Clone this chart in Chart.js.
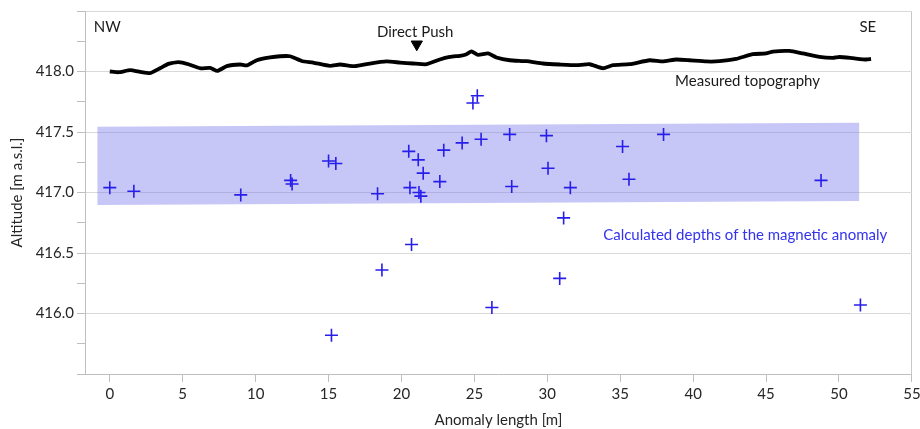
<!DOCTYPE html>
<html lang="en">
<head>
  <meta charset="UTF-8">
  <title>Anomaly depths</title>
  <script src="https://cdn.jsdelivr.net/npm/chart.js"></script>
  <style>
    body { margin: 0; background: #fff; }
    #wrap { width: 920px; height: 429px; }
  </style>
</head>
<body>
  <div id="wrap"><canvas id="chart" width="920" height="429"></canvas></div>

  <script>
    // axis ticks
    const xTicks = [0, 5, 10, 15, 20, 25, 30, 35, 40, 45, 50, 55];
    const yTicks = [415.5, 415.75, 416.0, 416.25, 416.5, 416.75, 417.0, 417.25, 417.5, 417.75, 418.0, 418.25, 418.5];
    const yLabelled = [416.0, 416.5, 417.0, 417.5, 418.0];

    // measured topography
    const topoX = [0.0, 0.60, 1.40, 2.08, 2.77, 3.45, 4.02, 4.71, 5.39, 6.19, 6.88, 7.38, 8.02, 8.93, 9.39,
      10.08, 10.99, 11.67, 12.36, 13.16, 13.95, 15.10, 15.78, 16.81, 17.83, 18.98, 19.89, 20.80, 21.72,
      22.63, 23.32, 24.12, 24.46, 24.80, 25.25, 25.94, 26.51, 27.42, 28.57, 29.71, 30.85, 31.99, 32.90,
      33.82, 34.50, 35.64, 37.01, 37.92, 38.84, 39.75, 40.90, 41.81, 42.95, 44.09, 45.01, 45.46, 46.60,
      47.51, 48.66, 49.57, 50.03, 50.94, 51.86, 52.20];
    const topoY = [418.000, 417.994, 418.011, 417.997, 417.986, 418.027, 418.063, 418.077, 418.060, 418.027,
      418.030, 418.005, 418.044, 418.058, 418.050, 418.093, 418.116, 418.126, 418.126, 418.087, 418.074,
      418.046, 418.058, 418.044, 418.066, 418.083, 418.074, 418.066, 418.060, 418.099, 418.120, 418.132,
      418.143, 418.167, 418.137, 418.149, 418.116, 418.093, 418.085, 418.066, 418.058, 418.052, 418.060,
      418.027, 418.052, 418.060, 418.093, 418.083, 418.099, 418.093, 418.083, 418.085, 418.104, 418.143,
      418.149, 418.165, 418.170, 418.149, 418.120, 418.112, 418.120, 418.110, 418.099, 418.104];

    // calculated depths of the magnetic anomaly
    const depthX = [0.0, 1.65, 8.98, 12.4, 12.5, 15.0, 15.5, 15.2, 18.36, 20.5, 21.15, 21.49, 22.63, 20.58,
      21.2, 21.33, 22.9, 24.16, 25.46, 24.9, 25.2, 27.42, 29.94, 30.05, 27.56, 20.69, 18.66, 26.2, 30.85,
      31.12, 31.58, 35.16, 35.6, 37.97, 48.77, 51.47];
    const depthY = [417.04, 417.01, 416.98, 417.10, 417.07, 417.26, 417.24, 415.82, 416.99, 417.34, 417.27,
      417.16, 417.09, 417.04, 417.00, 416.97, 417.35, 417.41, 417.44, 417.74, 417.80, 417.48, 417.47,
      417.20, 417.05, 416.57, 416.36, 416.05, 416.29, 416.79, 417.04, 417.38, 417.11, 417.48, 417.10, 416.07];

    // shaded depth band
    const bandX = [-0.86, 51.4];
    const bandTop = [417.543, 417.576];
    const bandBottom = [416.897, 416.93];

    // direct push location
    const pushX = [21.05];
    const pushY = [418.225];

    const notes = [
      { text: 'NW', x: -0.18, y: 418.366, color: '#1a1a1a' },
      { text: 'SE', x: 51.98, y: 418.363, color: '#1a1a1a' },
      { text: 'Direct Push', x: 20.94, y: 418.324, color: '#1a1a1a' },
      { text: 'Measured topography', x: 43.73, y: 417.92, color: '#1a1a1a' },
      { text: 'Calculated depths of the magnetic anomaly', x: 43.57, y: 416.649, color: '#3333f0' }
    ];

    const pts = (xs, ys) => xs.map((x, i) => ({ x: x, y: ys[i] }));
    const FONT = 'Lato';
    const isMajor = v => Math.abs(v * 2 - Math.round(v * 2)) < 1e-6;

    const notePlugin = {
      id: 'notes',
      afterDatasetsDraw(chart) {
        const ctx = chart.ctx;
        const xs = chart.scales.x, ys = chart.scales.y;
        ctx.save();
        ctx.font = '15px ' + FONT;
        ctx.textAlign = 'center';
        ctx.textBaseline = 'middle';
        notes.forEach(n => {
          ctx.fillStyle = n.color;
          ctx.fillText(n.text, xs.getPixelForValue(n.x), ys.getPixelForValue(n.y));
        });
        ctx.restore();
      }
    };

    new Chart(document.getElementById('chart'), {
      type: 'line',
      data: {
        datasets: [
          {
            label: 'band top', data: pts(bandX, bandTop), order: 10,
            borderWidth: 0, pointRadius: 0, fill: false, borderColor: 'rgba(0,0,0,0)'
          },
          {
            label: 'band bottom', data: pts(bandX, bandBottom), order: 9,
            borderWidth: 0, pointRadius: 0, fill: '-1', borderColor: 'rgba(0,0,0,0)',
            backgroundColor: 'rgba(120,120,235,0.42)'
          },
          {
            label: 'Measured topography', data: pts(topoX, topoY), order: 3,
            borderColor: '#000', borderWidth: 3.8, pointRadius: 0, tension: 0.15, fill: false
          },
          {
            label: 'Calculated depths', data: pts(depthX, depthY), order: 1,
            showLine: false, pointStyle: 'cross', pointRadius: 6.5, pointBorderWidth: 1.6,
            borderColor: 'rgb(40,30,235)', backgroundColor: 'rgb(40,30,235)'
          },
          {
            label: 'Direct Push', data: pts(pushX, pushY), order: 2,
            showLine: false, pointStyle: 'triangle', rotation: 180, pointRadius: 6.5,
            borderColor: '#000', backgroundColor: '#000', pointBorderWidth: 1
          }
        ]
      },
      options: {
        responsive: false,
        animation: false,
        layout: { padding: { top: 11, right: 7, left: 0, bottom: 0 } },
        plugins: { legend: { display: false }, tooltip: { enabled: false } },
        scales: {
          x: {
            type: 'linear',
            min: -1.7,
            max: 55,
            afterBuildTicks: s => { s.ticks = xTicks.map(v => ({ value: v })); },
            afterFit: s => { s.height = 55; s.paddingLeft = 0; s.paddingRight = 0; },
            border: { color: '#bfbfbf', width: 1 },
            grid: {
              color: c => (c.tick && c.tick.value === 55) ? '#c8c8c8' : 'rgba(0,0,0,0)',
              tickColor: '#bfbfbf',
              tickLength: 8
            },
            ticks: { color: '#262626', font: { family: FONT, size: 15 }, padding: 3, maxRotation: 0 },
            title: {
              display: true, text: 'Anomaly length [m]', color: '#262626',
              font: { family: FONT, size: 15 }, padding: { top: -2, bottom: 0 }
            }
          },
          y: {
            type: 'linear',
            min: 415.5,
            max: 418.5,
            afterBuildTicks: s => { s.ticks = yTicks.map(v => ({ value: v })); },
            afterFit: s => { s.width = 85; s.paddingTop = 0; s.paddingBottom = 0; },
            border: { color: '#bfbfbf', width: 1 },
            grid: {
              color: c => (c.tick && isMajor(c.tick.value) && c.tick.value > 415.6) ? '#d9d9d9' : 'rgba(0,0,0,0)',
              tickColor: '#bfbfbf',
              tickLength: 8
            },
            ticks: {
              color: '#262626', font: { family: FONT, size: 15 }, padding: 3,
              callback: v => yLabelled.some(t => Math.abs(t - v) < 1e-6) ? v.toFixed(1) : ''
            },
            title: {
              display: true, text: 'Altitude [m a.s.l.]', color: '#262626',
              font: { family: FONT, size: 15 }, padding: { top: 8, bottom: 0 }
            }
          }
        }
      },
      plugins: [notePlugin]
    });
  </script>
</body>
</html>
